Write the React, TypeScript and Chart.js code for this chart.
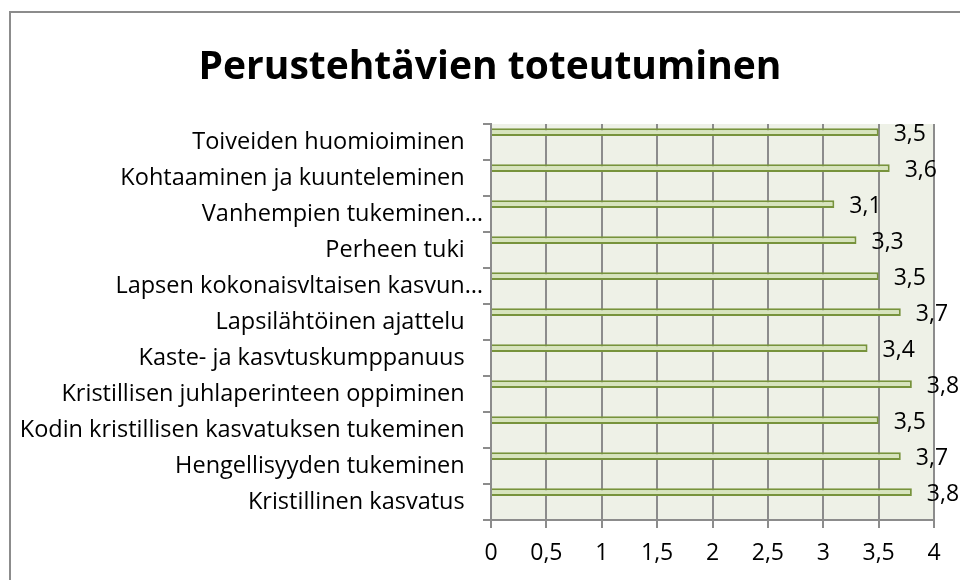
import React, { useEffect, useRef } from "react";
import { Chart, registerables } from "chart.js";

Chart.register(...registerables);

const TITLE = "Perustehtävien toteutuminen";
const categories = [
  "Toiveiden huomioiminen",
  "Kohtaaminen ja kuunteleminen",
  "Vanhempien tukeminen…",
  "Perheen tuki",
  "Lapsen kokonaisvltaisen kasvun…",
  "Lapsilähtöinen ajattelu",
  "Kaste- ja kasvtuskumppanuus",
  "Kristillisen juhlaperinteen oppiminen",
  "Kodin kristillisen kasvatuksen tukeminen",
  "Hengellisyyden tukeminen",
  "Kristillinen kasvatus",
];
const values = [3.5, 3.6, 3.1, 3.3, 3.5, 3.7, 3.4, 3.8, 3.5, 3.7, 3.8];
const xTickLabels = ["0", "0,5", "1", "1,5", "2", "2,5", "3", "3,5", "4"];
const X_MIN = 0;
const X_MAX = 4;
const X_STEP = 0.5;

const FONT = "'Open Sans', Lato, sans-serif";
const GRID = "#8c8c8c";

const fmt = (v: number) => String(v).replace(".", ",");

const decorPlugin = {
  id: "decor",
  beforeDraw(chart: any) {
    const { ctx, chartArea } = chart;
    ctx.save();
    ctx.fillStyle = "#ffffff";
    ctx.fillRect(0, 0, chart.width, chart.height);
    ctx.fillStyle = "#eef1e7";
    ctx.fillRect(chartArea.left, chartArea.top, chartArea.right - chartArea.left, chartArea.bottom - chartArea.top);
    // outer frame
    ctx.strokeStyle = "#8c8c8c";
    ctx.lineWidth = 2;
    ctx.beginPath();
    ctx.moveTo(10, chart.height);
    ctx.lineTo(10, 12);
    ctx.lineTo(chart.width, 12);
    ctx.stroke();
    // title
    ctx.fillStyle = "#000";
    ctx.font = `bold 39px ${FONT}`;
    ctx.textAlign = "center";
    ctx.textBaseline = "alphabetic";
    ctx.fillText(TITLE, 490, 79);
    ctx.restore();
  },
  afterDatasetsDraw(chart: any) {
    const { ctx } = chart;
    const meta = chart.getDatasetMeta(0);
    ctx.save();
    ctx.fillStyle = "#000";
    ctx.font = `23px ${FONT}`;
    ctx.textAlign = "left";
    ctx.textBaseline = "middle";
    meta.data.forEach((bar: any, i: number) => {
      ctx.fillText(fmt(values[i]), bar.x + 15, bar.y + 2);
    });
    ctx.restore();
  },
};

export default function App() {
  const ref = useRef<HTMLCanvasElement | null>(null);
  useEffect(() => {
    if (!ref.current) return;
    const chart = new Chart(ref.current, {
      type: "bar",
      data: {
        labels: categories,
        datasets: [
          {
            data: values,
            backgroundColor: "#d7e4bd",
            borderColor: "#77933c",
            borderWidth: 2,
            categoryPercentage: 1.1,
            barPercentage: 0.4,
          },
          {
            data: categories.map(() => null),
            backgroundColor: "transparent",
            categoryPercentage: 1.1,
            barPercentage: 0.4,
          },
        ],
      },
      options: {
        indexAxis: "y",
        animation: false,
        responsive: true,
        maintainAspectRatio: false,
        layout: { padding: { top: 124, right: 26, left: 0, bottom: 0 } },
        plugins: {
          legend: { display: false },
          title: { display: false },
          tooltip: { enabled: false },
        },
        scales: {
          x: {
            min: X_MIN,
            max: X_MAX,
            position: "bottom",
            ticks: {
              stepSize: X_STEP,
              color: "#000",
              font: { family: FONT, size: 23 },
              padding: 12,
              callback: (_v: any, i: number) => xTickLabels[i],
            },
            grid: { color: GRID, lineWidth: 2, tickLength: 8, drawTicks: true },
            border: { color: GRID, width: 2 },
            afterFit: (s: any) => {
              s.height = 60;
            },
          },
          y: {
            ticks: {
              color: "#000",
              font: { family: FONT, size: 23.5 },
              padding: 0,
              autoSkip: false,
              callback: (_v: any, i: number) => {
                const l = categories[i];
                return l.endsWith("…") ? l : l + "   ";
              },
            },
            grid: { drawOnChartArea: false, tickLength: 8, color: GRID, lineWidth: 2, offset: true },
            border: { color: GRID, width: 2 },
            afterFit: (s: any) => {
              s.width = 491;
            },
          },
        },
      } as any,
      plugins: [decorPlugin],
    });
    return () => chart.destroy();
  }, []);
  return (
    <div style={{ position: "fixed", left: 0, top: 0, width: 960, height: 580 }}>
      <canvas ref={ref} />
    </div>
  );
}
